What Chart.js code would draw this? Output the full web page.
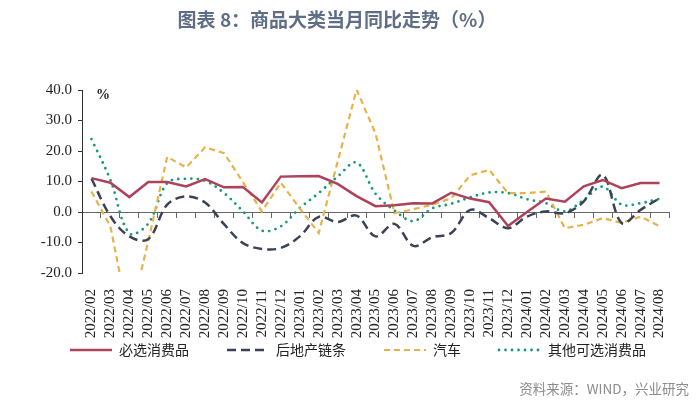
<!DOCTYPE html>
<html>
<head>
<meta charset="utf-8">
<script src="https://cdn.jsdelivr.net/npm/chart.js@4.4.1/dist/chart.umd.min.js"></script>
<style>
  html, body { margin: 0; padding: 0; background: #ffffff; }
  #wrap { position: relative; width: 700px; height: 405px; overflow: hidden; }
  #chart { position: absolute; left: 0; top: 0; }
  #title { position: absolute; left: 0; top: 5px; width: 674px; text-align: center;
    font-family: "Noto Sans CJK SC", sans-serif; font-weight: 700; font-size: 19px; color: #5f6e87; white-space: nowrap; }
  #unit { position: absolute; left: 96px; top: 87px; font-family: "Liberation Serif", serif; font-weight: 700;
    font-size: 14px; color: #222; }
  #source { position: absolute; right: 11px; top: 378px; font-family: "Noto Sans CJK SC", sans-serif;
    font-size: 13.5px; color: #8c8c8c; white-space: nowrap; }
</style>
</head>
<body>
<div id="wrap">
  <canvas id="chart" width="700" height="405"></canvas>
  <div id="title">图表 8：商品大类当月同比走势（%）</div>
  <div id="unit">%</div>
  <div id="source">资料来源：WIND，兴业研究</div>
</div>
<script>
const categories = [
  "2022/02","2022/03","2022/04","2022/05","2022/06","2022/07","2022/08","2022/09","2022/10","2022/11","2022/12",
  "2023/01","2023/02","2023/03","2023/04","2023/05","2023/06","2023/07","2023/08","2023/09","2023/10","2023/11","2023/12",
  "2024/01","2024/02","2024/03","2024/04","2024/05","2024/06","2024/07","2024/08"
];
const seriesNames = ["必选消费品", "后地产链条", "汽车", "其他可选消费品"];
const essentials = [11.1, 9.6, 4.9, 9.8, 9.8, 8.4, 10.8, 8.1, 8.2, 3.1, 11.6, 11.7, 11.8, 9.2, 5.2, 1.9, 2.2, 2.9, 2.8, 6.3, 4.4, 3.2, -4.6, 0.0, 4.4, 3.4, 8.4, 10.5, 7.8, 9.5, 9.5];
const propertyChain = [11.0, -1.4, -8.0, -8.9, 2.4, 5.1, 3.1, -4.0, -10.2, -12.1, -11.8, -8.0, -1.6, -3.3, -1.2, -8.0, -3.9, -11.1, -8.3, -6.9, 0.7, -2.0, -5.3, -1.5, 0.2, -0.4, 3.5, 12.2, -3.6, 0.7, 4.5];
const autos = [6.7, -4.7, -36.0, -9.5, 18.1, 14.6, 21.2, 19.3, 9.8, 0.2, 9.6, 1.2, -6.9, 16.5, 40.1, 25.8, -0.4, 0.9, 2.4, 4.5, 12.0, 13.8, 6.2, 6.2, 6.7, -5.3, -4.2, -2.0, -3.6, -1.5, -4.7];
const otherOptional = [23.9, 10.5, -7.0, -3.8, 9.5, 10.9, 10.2, 6.2, 0.2, -6.1, -4.7, 1.3, 6.2, 11.6, 16.2, 6.0, 0.5, -3.0, 1.2, 2.7, 4.8, 6.4, 6.2, 4.2, 2.9, 0.2, 4.0, 8.3, 2.4, 2.9, 4.3];
const yTicks = [-20, -10, 0, 10, 20, 30, 40];

const serif = "'Liberation Serif', 'Times New Roman', serif";
const cjk = "'Noto Sans CJK SC', sans-serif";

const legendOffset = {
  id: 'legendOffset',
  afterLayout(chart) {
    const lg = chart.legend;
    if (lg) { lg.left += 60; lg.right += 60; lg.top -= 12; lg.bottom -= 12; }
  }
};

new Chart(document.getElementById('chart'), {
  type: 'line',
  data: {
    labels: categories,
    datasets: [
      { label: seriesNames[0], data: essentials, borderColor: '#ad4259', backgroundColor: '#ad4259',
        borderWidth: 2.5, tension: 0, pointRadius: 0 },
      { label: seriesNames[1], data: propertyChain, borderColor: '#3b4256', backgroundColor: '#3b4256',
        borderWidth: 2.5, borderDash: [9, 5], tension: 0.35, pointRadius: 0 },
      { label: seriesNames[2], data: autos, borderColor: '#e8b24a', backgroundColor: '#e8b24a',
        borderWidth: 2.2, borderDash: [6, 4], tension: 0, pointRadius: 0 },
      { label: seriesNames[3], data: otherOptional, borderColor: '#17997a', backgroundColor: '#17997a',
        borderWidth: 2.8, borderDash: [0, 6.5], borderCapStyle: 'round', tension: 0.35, pointRadius: 0 }
    ]
  },
  plugins: [legendOffset],
  options: {
    responsive: false,
    animation: false,
    events: [],
    layout: { padding: { left: 0, right: 31, top: 90, bottom: 26 } },
    scales: {
      x: {
        type: 'category',
        offset: true,
        grid: { display: false },
        border: { display: false },
        ticks: { autoSkip: false, minRotation: 90, maxRotation: 90, padding: 8,
          font: { family: serif, size: 15 }, color: '#222' },
        afterFit: s => { s.height = 72; }
      },
      x2: {
        type: 'category',
        axis: 'x',
        position: { y: 0 },
        offset: true,
        grid: { display: true, drawOnChartArea: false, offset: true, drawTicks: true, tickLength: 5, color: '#666', lineWidth: 1 },
        border: { display: true, color: '#666', width: 1 },
        ticks: { display: false }
      },
      y: {
        min: -20,
        max: 40,
        afterBuildTicks: s => { s.ticks = yTicks.map(v => ({ value: v })); },
        grid: { display: true, drawOnChartArea: false, drawTicks: true, tickLength: 4, color: '#333' },
        border: { display: true, color: '#333', width: 1 },
        ticks: { padding: 6, font: { family: serif, size: 15 }, color: '#222',
          callback: v => Number(v).toFixed(1) },
        afterFit: s => { s.width = 82; }
      }
    },
    plugins: {
      title: { display: false },
      tooltip: { enabled: false },
      legend: {
        display: true,
        position: 'bottom',
        align: 'start',
        labels: {
          usePointStyle: true,
          pointStyle: 'line',
          pointStyleWidth: 42,
          padding: 10,
          color: '#222',
          font: { family: cjk, size: 14 },
          generateLabels: chart => {
            const items = Chart.defaults.plugins.legend.labels.generateLabels(chart);
            items.forEach((it, i) => {
              const ds = chart.data.datasets[it.datasetIndex];
              it.lineDash = ds.borderDash || [];
              it.lineCap = ds.borderCapStyle || 'butt';
              it.lineWidth = ds.borderWidth;
              it.strokeStyle = ds.borderColor;
              if (i < items.length - 1) it.text = it.text + '\u2003\u2003';
            });
            return items;
          }
        }
      }
    }
  }
});
</script>
</body>
</html>
